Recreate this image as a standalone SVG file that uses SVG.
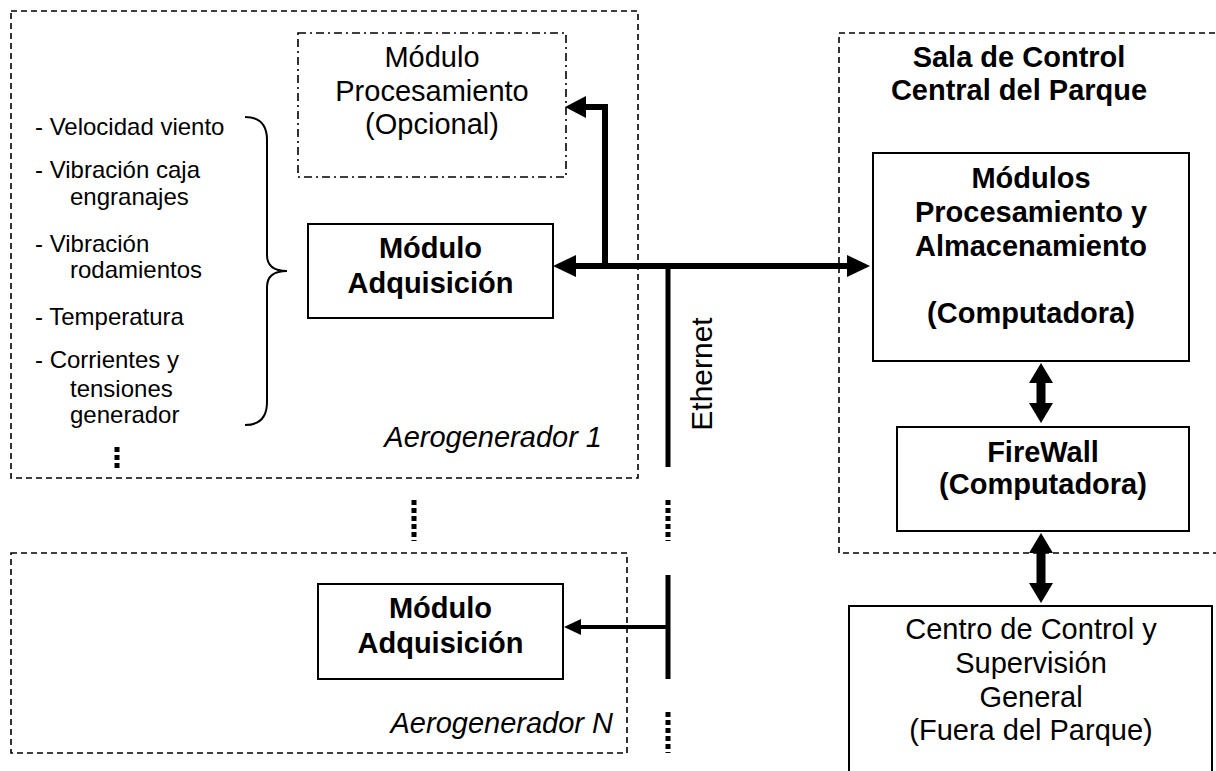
<svg xmlns="http://www.w3.org/2000/svg" width="1216" height="771" viewBox="0 0 1216 771">
<style>
text{font-family:"Liberation Sans",Arial,sans-serif;fill:#000}
.t{font-size:29px;text-anchor:middle}
.b{font-weight:bold}
.it{font-size:29px;font-style:italic;text-anchor:end}
.ls{font-size:24px}
.grp{fill:none;stroke:#000;stroke-width:1.6;stroke-dasharray:6 4}
.dd{fill:none;stroke:#000;stroke-width:1.6;stroke-dasharray:8 4 2 4}
.box{fill:#fff;stroke:#000;stroke-width:2}
.dots{stroke:#000;stroke-width:5;stroke-dasharray:5 3;fill:none}
.ln{stroke:#000;fill:none}
.hd{fill:#000}
</style>
<rect width="1216" height="771" fill="#fff"/>
<g id="aerogenerador1">
<rect class="grp" x="11" y="11" width="627" height="467"/>
<text class="it" x="602" y="447">Aerogenerador 1</text>
</g>
<g id="aerogeneradorN">
<rect class="grp" x="11" y="553" width="616" height="200"/>
<text class="it" x="613" y="733">Aerogenerador N</text>
</g>
<g id="sala">
<rect class="grp" x="839" y="33" width="400" height="520"/>
<text class="t b" x="1019" y="67">Sala de Control</text>
<text class="t b" x="1019" y="100">Central del Parque</text>
</g>
<g id="variables">
<text class="ls" x="35" y="135">- Velocidad viento</text>
<text class="ls" x="35" y="178">- Vibración caja</text>
<text class="ls" x="70" y="205">engranajes</text>
<text class="ls" x="35" y="252">- Vibración</text>
<text class="ls" x="70" y="278">rodamientos</text>
<text class="ls" x="35" y="325">- Temperatura</text>
<text class="ls" x="35" y="368">- Corrientes y</text>
<text class="ls" x="70" y="397">tensiones</text>
<text class="ls" x="70" y="423">generador</text>
<path class="ln" stroke-width="2" d="M245,117 Q267,117 267,140 L267,255 Q267,271 287,271 Q267,271 267,287 L267,402 Q267,425 245,425"/>
<line class="dots" x1="117" y1="447" x2="117" y2="468"/>
</g>
<g id="procesamiento">
<rect class="dd" x="298" y="33" width="268" height="144"/>
<text class="t" x="432" y="67">Módulo</text>
<text class="t" x="432" y="101">Procesamiento</text>
<text class="t" x="432" y="134">(Opcional)</text>
</g>
<g id="adquisicion1">
<rect class="box" x="308" y="224" width="245" height="94"/>
<text class="t b" x="430.5" y="258">Módulo</text>
<text class="t b" x="430.5" y="293">Adquisición</text>
</g>
<g id="adquisicionN">
<rect class="box" x="318" y="584" width="245" height="95"/>
<text class="t b" x="440.5" y="618">Módulo</text>
<text class="t b" x="440.5" y="653">Adquisición</text>
</g>
<g id="modulos">
<rect class="box" x="873" y="153" width="316" height="208"/>
<text class="t b" x="1031" y="188">Módulos</text>
<text class="t b" x="1031" y="222">Procesamiento y</text>
<text class="t b" x="1031" y="256">Almacenamiento</text>
<text class="t b" x="1031" y="323">(Computadora)</text>
</g>
<g id="firewall">
<rect class="box" x="897" y="427" width="292" height="104"/>
<text class="t b" x="1043" y="462">FireWall</text>
<text class="t b" x="1043" y="494">(Computadora)</text>
</g>
<g id="centro">
<rect class="box" x="849" y="606" width="363" height="180"/>
<text class="t" x="1031" y="639">Centro de Control y</text>
<text class="t" x="1031" y="673">Supervisión</text>
<text class="t" x="1031" y="707">General</text>
<text class="t" x="1031" y="740">(Fuera del Parque)</text>
</g>
<g id="connectors">
<line class="ln" stroke-width="6" x1="574" y1="266" x2="849" y2="266"/>
<polygon class="hd" points="553,266 576,255 576,277"/>
<polygon class="hd" points="870,266 847,255 847,277"/>
<path class="ln" stroke-width="6" d="M605,269 V107 H584"/>
<polygon class="hd" points="565,107 586,96 586,118"/>
<line class="ln" stroke-width="5" x1="668" y1="266" x2="668" y2="467"/>
<line class="dots" x1="668" y1="500" x2="668" y2="541"/>
<line class="dots" x1="414" y1="500" x2="414" y2="541"/>
<line class="ln" stroke-width="5" x1="668" y1="575" x2="668" y2="679"/>
<line class="dots" x1="668" y1="712" x2="668" y2="753"/>
<line class="ln" stroke-width="4" x1="668" y1="627" x2="578" y2="627"/>
<polygon class="hd" points="564,627 581,619 581,635"/>
<line class="ln" stroke-width="9" x1="1041" y1="381" x2="1041" y2="405"/>
<polygon class="hd" points="1041,363 1029,383 1053,383"/>
<polygon class="hd" points="1041,423 1029,403 1053,403"/>
<line class="ln" stroke-width="9" x1="1041" y1="551" x2="1041" y2="585"/>
<polygon class="hd" points="1041,533 1029,553 1053,553"/>
<polygon class="hd" points="1041,603 1029,583 1053,583"/>
<text transform="translate(712,374) rotate(-90)" style="font-size:30px;text-anchor:middle">Ethernet</text>
</g>
</svg>
